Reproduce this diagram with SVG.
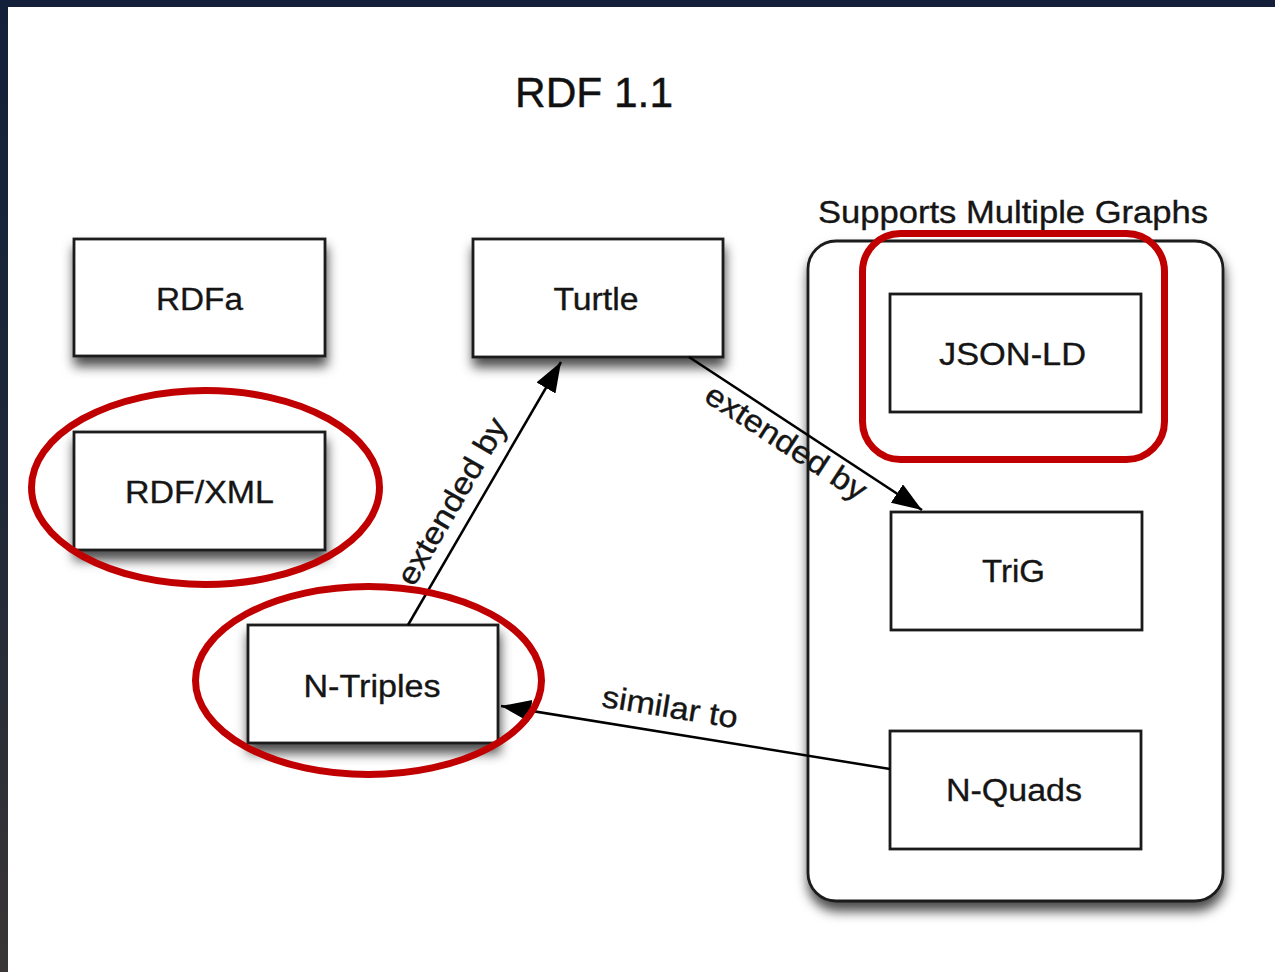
<svg xmlns="http://www.w3.org/2000/svg" width="1275" height="972" viewBox="0 0 1275 972">
  <defs>
    <linearGradient id="edge" x1="0" y1="0" x2="0" y2="1">
      <stop offset="0" stop-color="#13203a"/>
      <stop offset="0.5" stop-color="#1e2838"/>
      <stop offset="1" stop-color="#3a3536"/>
    </linearGradient>
    <filter id="shadow" x="-20%" y="-20%" width="140%" height="150%">
      <feDropShadow dx="1" dy="9" stdDeviation="6" flood-color="#000" flood-opacity="0.7"/>
    </filter>
    <marker id="arrow" markerUnits="userSpaceOnUse" markerWidth="32" markerHeight="24" refX="30" refY="11" orient="auto">
      <path d="M0,0 L30,11 L0,22 z" fill="#000"/>
    </marker>
    <style>
      .box { fill: #fff; stroke: #1a1a1a; stroke-width: 2.8; }
      .lbl { font-family: "Liberation Sans", Arial, Helvetica, sans-serif; font-size: 31px; fill: #151515; stroke: #151515; stroke-width: 0.35; text-anchor: middle; }
      .edge { stroke: #000; stroke-width: 2.5; fill: none; marker-end: url(#arrow); }
      .hl { fill: none; stroke: #c00000; stroke-width: 7; }
    </style>
  </defs>

  <!-- background -->
  <rect x="0" y="0" width="1275" height="972" fill="#fff"/>
  <rect x="0" y="0" width="1275" height="7" fill="#14203a"/>
  <rect x="0" y="0" width="8" height="972" fill="url(#edge)"/>

  <!-- title -->
  <text id="title" x="594" y="107" font-family="Liberation Sans, Arial, Helvetica, sans-serif" font-size="42" fill="#111" stroke="#111" stroke-width="0.4" text-anchor="middle" textLength="158" lengthAdjust="spacingAndGlyphs">RDF 1.1</text>

  <!-- container -->
  <g id="multi-graphs">
    <rect x="808" y="241" width="415" height="660" rx="28" ry="28" class="box" filter="url(#shadow)"/>
    <text class="lbl" x="1013" y="223" textLength="390" lengthAdjust="spacingAndGlyphs">Supports Multiple Graphs</text>
  </g>

  <g id="rdfa">
    <rect x="74" y="239" width="251" height="117" class="box" filter="url(#shadow)"/>
    <text class="lbl" x="199.5" y="310" textLength="87" lengthAdjust="spacingAndGlyphs">RDFa</text>
  </g>
  <g id="rdfxml">
    <rect x="74" y="432" width="251" height="118" class="box" filter="url(#shadow)"/>
    <text class="lbl" x="199.5" y="503" textLength="149" lengthAdjust="spacingAndGlyphs">RDF/XML</text>
  </g>
  <g id="turtle">
    <rect x="473" y="239" width="250" height="118" class="box" filter="url(#shadow)"/>
    <text class="lbl" x="596" y="310" textLength="85" lengthAdjust="spacingAndGlyphs">Turtle</text>
  </g>
  <g id="ntriples">
    <rect x="248" y="625" width="250" height="118" class="box" filter="url(#shadow)"/>
    <text class="lbl" x="372" y="697" textLength="137" lengthAdjust="spacingAndGlyphs">N-Triples</text>
  </g>
  <g id="jsonld">
    <rect x="890" y="294" width="251" height="118" class="box"/>
    <text class="lbl" x="1012.5" y="365" textLength="147" lengthAdjust="spacingAndGlyphs">JSON-LD</text>
  </g>
  <g id="trig">
    <rect x="891" y="512" width="251" height="118" class="box"/>
    <text class="lbl" x="1013.5" y="582" textLength="63" lengthAdjust="spacingAndGlyphs">TriG</text>
  </g>
  <g id="nquads">
    <rect x="890" y="731" width="251" height="118" class="box"/>
    <text class="lbl" x="1014" y="801" textLength="136" lengthAdjust="spacingAndGlyphs">N-Quads</text>
  </g>

  <!-- connectors -->
  <g id="connectors">
    <line class="edge" x1="408" y1="625" x2="561" y2="362"/>
    <line class="edge" x1="689" y1="357" x2="922" y2="510"/>
    <line class="edge" x1="890" y1="769" x2="501" y2="706"/>
    <text class="lbl" transform="translate(461,506.5) rotate(-59.8)" textLength="188" lengthAdjust="spacingAndGlyphs">extended by</text>
    <text class="lbl" transform="translate(780.4,451) rotate(33.1)" textLength="186" lengthAdjust="spacingAndGlyphs">extended by</text>
    <text class="lbl" transform="translate(668.4,717.5) rotate(9.1)" textLength="137" lengthAdjust="spacingAndGlyphs">similar to</text>
  </g>

  <!-- red highlights -->
  <g id="highlights">
    <ellipse class="hl" cx="205.5" cy="487.5" rx="174" ry="97"/>
    <ellipse class="hl" cx="368.5" cy="680.5" rx="173" ry="94"/>
    <rect class="hl" x="862.5" y="233.5" width="302" height="226" rx="38" ry="38"/>
  </g>
</svg>
